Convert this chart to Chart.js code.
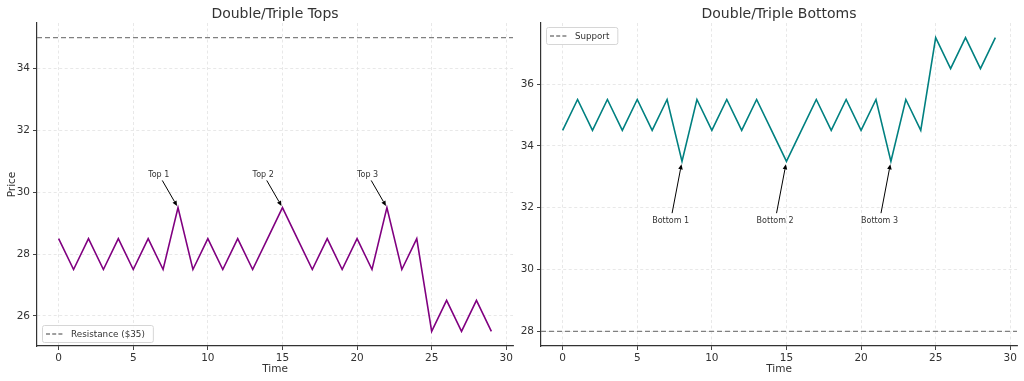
<!DOCTYPE html>
<html>
<head>
<meta charset="utf-8">
<script src="https://cdn.jsdelivr.net/npm/chart.js@4.4.1/dist/chart.umd.min.js"></script>
<style>
  html, body { margin: 0; padding: 0; background: #ffffff; }
  body { width: 1024px; height: 381px; position: relative; overflow: hidden; }
  .box { position: absolute; top: 0; height: 381px; }
  #b1 { left: 0; width: 520px; }
  #b2 { left: 520px; width: 504px; }
</style>
</head>
<body>
<div class="box" id="b1"><canvas id="c1"></canvas></div>
<div class="box" id="b2"><canvas id="c2"></canvas></div>
<script>
// ---------------- DATA ----------------
const time = [0,1,2,3,4,5,6,7,8,9,10,11,12,13,14,15,16,17,18,19,20,21,22,23,24,25,26,27,28,29];
const topsPrice = [28.5,27.5,28.5,27.5,28.5,27.5,28.5,27.5,29.5,27.5,28.5,27.5,28.5,27.5,28.5,29.5,28.5,27.5,28.5,27.5,28.5,27.5,29.5,27.5,28.5,25.5,26.5,25.5,26.5,25.5];
const bottomsPrice = [34.5,35.5,34.5,35.5,34.5,35.5,34.5,35.5,33.5,35.5,34.5,35.5,34.5,35.5,34.5,33.5,34.5,35.5,34.5,35.5,34.5,35.5,33.5,35.5,34.5,37.5,36.5,37.5,36.5,37.5];
const resistanceLevel = 35;
const supportLevel = 28;

const topLabels = ['Top 1','Top 2','Top 3'];
const topPointX = [8, 15, 22];
const topPointY = [29.5, 29.5, 29.5];
const topTextX = [6, 13, 20];
const topTextY = [30.5, 30.5, 30.5];

const bottomLabels = ['Bottom 1','Bottom 2','Bottom 3'];
const bottomPointX = [8, 15, 22];
const bottomPointY = [33.5, 33.5, 33.5];
const bottomTextX = [6, 13, 20];
const bottomTextY = [31.5, 31.5, 31.5];

const xTicks = [0,5,10,15,20,25,30];
const topsYTicks = [26,28,30,32,34];
const bottomsYTicks = [28,30,32,34,36];

const xRange = [-1.45, 30.45];
const topsYRange = [25.025, 35.475];
const bottomsYRange = [27.525, 37.975];

// ---------------- STYLE ----------------
const FONT = "'DejaVu Sans', 'Liberation Sans', sans-serif";
const TXT = '#333333';
Chart.defaults.font.family = FONT;
Chart.defaults.color = TXT;
Chart.defaults.animation = false;

function pts(xs, ys) { return xs.map((x, i) => ({x: x, y: ys[i]})); }

// annotation + legend plugin
const overlayPlugin = {
  id: 'overlay',
  afterDatasetsDraw(chart) {
    const o = chart.options.plugins.overlay;
    const ctx = chart.ctx;
    const xs = chart.scales.x, ys = chart.scales.y;
    ctx.save();
    // annotations
    ctx.font = "8px " + FONT;
    ctx.textBaseline = 'alphabetic';
    ctx.textAlign = 'left';
    for (let i = 0; i < o.labels.length; i++) {
      const tx = xs.getPixelForValue(o.textX[i]);
      const ty = ys.getPixelForValue(o.textY[i]);
      const px = xs.getPixelForValue(o.pointX[i]);
      const py = ys.getPixelForValue(o.pointY[i]);
      ctx.fillStyle = TXT;
      ctx.fillText(o.labels[i], tx, ty);
      const w = ctx.measureText(o.labels[i]).width;
      const bl = tx, br = tx + w, bt = ty - 7, bb = ty + 2;
      const cx = (bl + br) / 2, cy = (bt + bb) / 2;
      const dx = px - cx, dy = py - cy;
      const L = Math.hypot(dx, dy);
      let t = 1;
      if (dx !== 0) t = Math.min(t, Math.abs((dx > 0 ? br - cx : bl - cx) / dx));
      if (dy !== 0) t = Math.min(t, Math.abs((dy > 0 ? bb - cy : bt - cy) / dy));
      const ux = dx / L, uy = dy / L;
      const shrink = 0.05 * L;
      const sx = cx + dx * t + ux * shrink, sy = cy + dy * t + uy * shrink;
      const ex = px - ux * shrink, ey = py - uy * shrink;
      const hl = 5, hw = 2.3;
      const bx = ex - ux * hl, by = ey - uy * hl;
      ctx.strokeStyle = '#000';
      ctx.fillStyle = '#000';
      ctx.lineWidth = 1;
      ctx.beginPath();
      ctx.moveTo(sx, sy);
      ctx.lineTo(bx, by);
      ctx.stroke();
      ctx.beginPath();
      ctx.moveTo(ex, ey);
      ctx.lineTo(bx - uy * hw, by + ux * hw);
      ctx.lineTo(bx + uy * hw, by - ux * hw);
      ctx.closePath();
      ctx.fill();
    }
    // legend
    const lg = o.legend;
    const ca = chart.chartArea;
    ctx.font = lg.fontSize + "px " + FONT;
    const tw = ctx.measureText(lg.text).width;
    const bw = tw + 37, bh = 17;
    const lx = ca.left + 5;
    const ly = lg.pos === 'bottom' ? ca.bottom - 4 - bh : ca.top + 4;
    ctx.fillStyle = 'rgba(255,255,255,0.85)';
    ctx.strokeStyle = '#d6d6d6';
    ctx.lineWidth = 1;
    ctx.beginPath();
    if (ctx.roundRect) ctx.roundRect(lx + 0.5, ly + 0.5, bw, bh, 2); else ctx.rect(lx + 0.5, ly + 0.5, bw, bh);
    ctx.fill();
    ctx.stroke();
    ctx.strokeStyle = '#808080';
    ctx.lineWidth = 1.3;
    ctx.setLineDash([4, 2.2]);
    ctx.beginPath();
    ctx.moveTo(lx + 4, ly + bh / 2 + 0.5);
    ctx.lineTo(lx + 22, ly + bh / 2 + 0.5);
    ctx.stroke();
    ctx.setLineDash([]);
    ctx.fillStyle = TXT;
    ctx.textBaseline = 'middle';
    ctx.fillText(lg.text, lx + 29, ly + bh / 2 + 1);
    ctx.restore();
  }
};

function makeChart(canvasId, cfg) {
  const gridOpts = { color: '#e2e2e2', lineWidth: 0.8, tickLength: 4, tickColor: '#444', tickBorderDash: [], tickWidth: 1 };
  const borderOpts = { display: true, color: '#333', width: 1.2, dash: [3, 2.5] };
  return new Chart(document.getElementById(canvasId), {
    type: 'line',
    data: {
      datasets: [
        {
          data: pts(time, cfg.values),
          borderColor: cfg.color,
          borderWidth: 1.6,
          pointRadius: 0,
          tension: 0,
          fill: false
        },
        {
          data: pts(xRange, [cfg.level, cfg.level]),
          borderColor: '#808080',
          borderWidth: 1.3,
          borderDash: [5, 3],
          pointRadius: 0,
          fill: false
        }
      ]
    },
    options: {
      responsive: true,
      maintainAspectRatio: false,
      layout: { padding: { left: 0, right: 7, top: 0, bottom: 0 } },
      plugins: {
        legend: { display: false },
        tooltip: { enabled: false },
        title: {
          display: true,
          text: cfg.title,
          fullSize: false,
          color: TXT,
          font: { size: 14, weight: 'normal', family: FONT },
          padding: { top: 6, bottom: 0.2 }
        },
        overlay: {
          labels: cfg.labels, textX: cfg.textX, textY: cfg.textY,
          pointX: cfg.pointX, pointY: cfg.pointY,
          legend: cfg.legend
        }
      },
      scales: {
        x: {
          type: 'linear',
          min: xRange[0], max: xRange[1],
          afterBuildTicks: s => { s.ticks = xTicks.map(v => ({value: v})); },
          afterFit: s => { s.height = 35; s.paddingLeft = 0; s.paddingRight = 0; },
          ticks: { color: TXT, font: { size: 10.5 }, padding: 2, maxRotation: 0, autoSkip: false },
          grid: gridOpts,
          border: borderOpts,
          title: { display: true, text: 'Time', color: TXT, font: { size: 10.5 }, padding: { top: 0, bottom: 5 } }
        },
        y: {
          type: 'linear',
          min: cfg.yRange[0], max: cfg.yRange[1],
          afterBuildTicks: s => { s.ticks = cfg.yTicks.map(v => ({value: v})); },
          afterFit: s => { s.width = cfg.yWidth; s.paddingTop = 0; s.paddingBottom = 0; },
          ticks: { color: TXT, font: { size: 10.5 }, padding: 3, autoSkip: false },
          grid: gridOpts,
          border: borderOpts,
          title: { display: cfg.yTitle !== '', text: cfg.yTitle, color: TXT, font: { size: 10.5 }, padding: { top: 5.5, bottom: 0 } }
        }
      }
    },
    plugins: [overlayPlugin]
  });
}

makeChart('c1', {
  title: 'Double/Triple Tops', values: topsPrice, color: '#800080', level: resistanceLevel,
  yRange: topsYRange, yTicks: topsYTicks, yWidth: 37, yTitle: 'Price',
  labels: topLabels, textX: topTextX, textY: topTextY, pointX: topPointX, pointY: topPointY,
  legend: { text: 'Resistance ($35)', pos: 'bottom', fontSize: 8.8 }
});
makeChart('c2', {
  title: 'Double/Triple Bottoms', values: bottomsPrice, color: '#008080', level: supportLevel,
  yRange: bottomsYRange, yTicks: bottomsYTicks, yWidth: 21, yTitle: '',
  labels: bottomLabels, textX: bottomTextX, textY: bottomTextY, pointX: bottomPointX, pointY: bottomPointY,
  legend: { text: 'Support', pos: 'top', fontSize: 8.7 }
});
</script>
</body>
</html>
